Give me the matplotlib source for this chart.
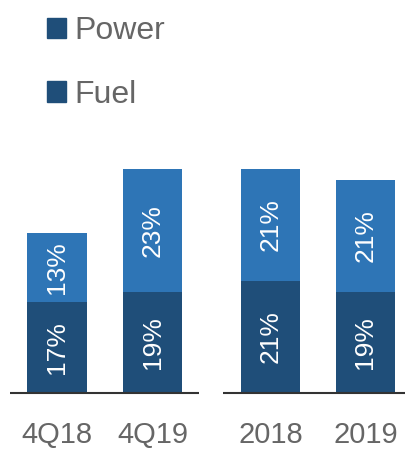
import matplotlib
matplotlib.use("Agg")
import matplotlib.pyplot as plt
from matplotlib.patches import Patch

categories = ["4Q18", "4Q19", "2018", "2019"]
fuel = [17, 19, 21, 19]
power = [13, 23, 21, 21]
positions = [0, 1, 2.235, 3.23]

dark = "#1f4e79"
light = "#2e75b6"
grey = "#666666"

plt.rcParams["font.family"] = ["Liberation Sans", "DejaVu Sans"]

fig = plt.figure(figsize=(4.05, 4.49), dpi=100)
ax = fig.add_axes([0, 56 / 449, 1, 233 / 449])

bars_fuel = ax.bar(positions, fuel, width=0.62, color=dark, edgecolor="none")
bars_power = ax.bar(positions, power, width=0.62, bottom=fuel, color=light, edgecolor="none")

for bars, vals, bottoms in [(bars_fuel, fuel, [0] * 4), (bars_power, power, fuel)]:
    for b, v, bt in zip(bars, vals, bottoms):
        ax.text(b.get_x() + b.get_width() / 2, bt + v / 2, f"{v}%", rotation=90,
                ha="center", va="center", color="white", fontsize=19)

# two separate baselines
ax.hlines(0, -0.49, 1.49, color="#333333", lw=1.5, clip_on=False)
ax.hlines(0, 1.74, 3.7, color="#333333", lw=1.5, clip_on=False)

ax.set_xlim(-0.597, 3.644)
ax.set_ylim(0, 43.7)
ax.set_xticks(positions)
ax.set_xticklabels(categories, fontsize=21, color=grey)
ax.tick_params(axis="x", length=0, pad=20)
ax.set_yticks([])
for s in ax.spines.values():
    s.set_visible(False)

handles = [Patch(color=dark), Patch(color=dark)]
fig.legend(handles, ["Power", "Fuel"], loc="upper left", bbox_to_anchor=(0.045, 1.028),
           frameon=False, fontsize=23, labelcolor=grey, handlelength=0.6,
           handleheight=0.6, handletextpad=0.25, labelspacing=1.05)

fig.savefig("out.png", dpi=100)
